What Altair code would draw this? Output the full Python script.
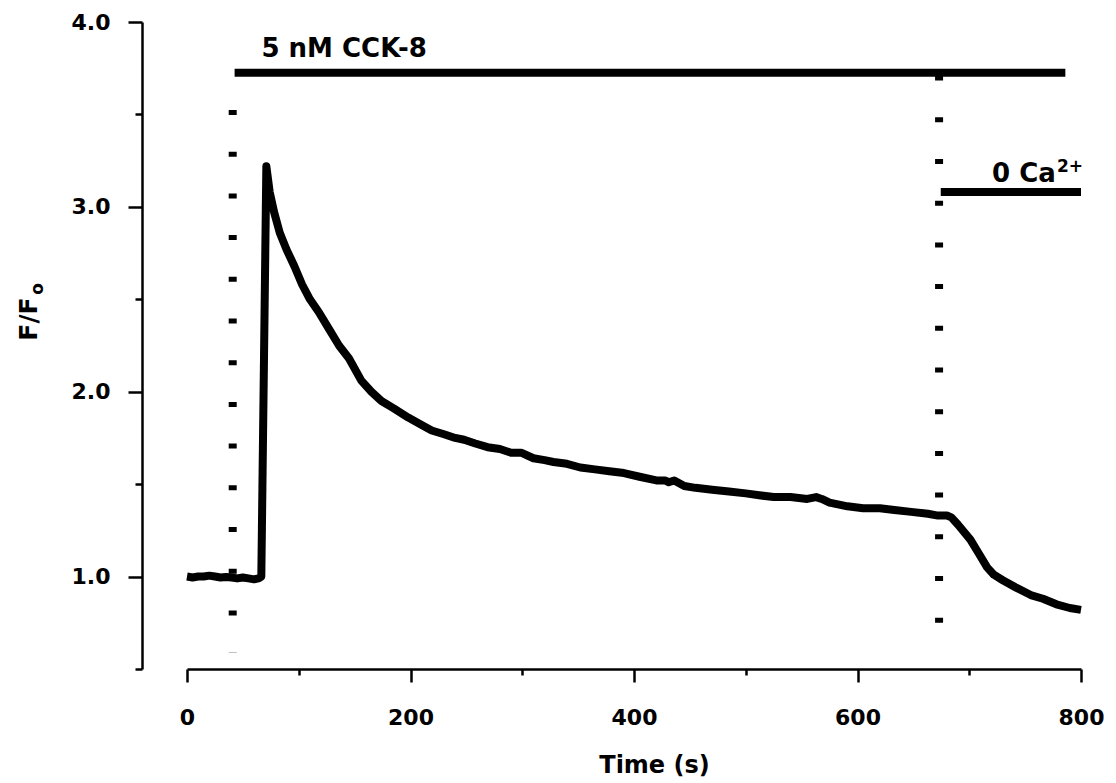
import altair as alt
import pandas as pd

# ---- data ----
time_s = [0, 5, 10, 15, 20, 25, 30, 35, 40, 45, 50, 55, 60, 64, 66.5, 71, 74, 78, 83, 89,
          96, 103, 110, 118, 127, 136, 145, 156, 165, 174, 185, 198, 210, 219, 230, 240,
          248, 258, 269, 280, 290, 299, 310, 320, 328, 340, 352, 365, 378, 391, 405, 420,
          428, 431, 436, 445, 455, 470, 485, 500, 512, 525, 540, 555, 563, 568, 575, 591,
          605, 620, 633, 648, 663, 672, 680, 684, 690, 701, 708, 716, 722, 730, 742, 755,
          766, 778, 790, 800]
f_ratio = [1.00, 0.995, 1.00, 1.00, 1.005, 1.00, 0.995, 0.998, 0.995, 0.99, 0.995, 0.99,
           0.985, 0.99, 1.00, 3.22, 3.08, 2.97, 2.86, 2.77, 2.68, 2.58, 2.50, 2.43, 2.34,
           2.25, 2.18, 2.06, 2.00, 1.95, 1.91, 1.86, 1.82, 1.79, 1.77, 1.75, 1.74, 1.72,
           1.70, 1.69, 1.67, 1.67, 1.64, 1.63, 1.62, 1.61, 1.59, 1.58, 1.57, 1.56, 1.54,
           1.52, 1.52, 1.51, 1.52, 1.49, 1.48, 1.47, 1.46, 1.45, 1.44, 1.43, 1.43, 1.42,
           1.43, 1.42, 1.40, 1.38, 1.37, 1.37, 1.36, 1.35, 1.34, 1.33, 1.33, 1.32, 1.28,
           1.20, 1.13, 1.05, 1.01, 0.98, 0.94, 0.90, 0.88, 0.85, 0.83, 0.82]

# treatment bars
bar_labels = ["5 nM CCK-8", "0 Ca"]
bar_start = [42.6, 674.5]
bar_end = [786, 800]
bar_level = [3.725, 3.08]

# dotted event markers
marker_t = [40.9, 673]
marker_top = [3.524, 3.71]
marker_bottom = [0.59, 0.74]

x_ticks = [0, 100, 200, 300, 400, 500, 600, 700, 800]
y_ticks = [0.5, 1.0, 1.5, 2.0, 2.5, 3.0, 3.5, 4.0]

FONT = "DejaVu Sans"

trace = pd.DataFrame({"t": time_s, "v": f_ratio})
bars = pd.DataFrame({"t": bar_start, "t2": bar_end, "v": bar_level})
markers = pd.DataFrame({"t": marker_t, "v": marker_top, "v2": marker_bottom})
labels = pd.DataFrame({
    "t": [66.6, 777.5],
    "v": [3.81, 3.137],
    "txt": [bar_labels[0], bar_labels[1]],
})
sup = pd.DataFrame({"t": [778.5], "v": [3.19], "txt": ["2+"]})

x_scale = alt.Scale(domain=[0, 800], nice=False, zero=False)
y_scale = alt.Scale(domain=[0.5, 4.0], nice=False, zero=False)

x_axis = alt.Axis(
    values=x_ticks,
    labelExpr="datum.value % 200 === 0 ? datum.label : ''",
    tickSize={"condition": {"test": "datum.value % 200 === 0", "value": 13}, "value": 6},
    labelPadding=25,
    labelFlush=False,
    labelBound=False,
    title="Time (s)",
    titleX=467,
    titleY=103,
    titleBaseline="alphabetic",
    titleFontSize=24,
    grid=False,
)
y_axis = alt.Axis(
    values=y_ticks,
    labelExpr="datum.value % 1 === 0 ? format(datum.value, '.1f') : ''",
    tickSize={"condition": {"test": "datum.value % 1 === 0", "value": 14}, "value": 7},
    labelPadding=18,
    labelFlush=False,
    offset=45,
    title=None,
    grid=False,
)


def X(field="t"):
    return alt.X(f"{field}:Q", scale=x_scale, axis=x_axis)


def Y(field="v"):
    return alt.Y(f"{field}:Q", scale=y_scale, axis=y_axis)


line = alt.Chart(trace).mark_line(
    color="black", strokeWidth=8, strokeJoin="round", strokeCap="butt"
).encode(x=X(), y=Y())

bar_rules = alt.Chart(bars).mark_rule(color="black", strokeWidth=8).encode(
    x=X(), x2="t2:Q", y=Y()
)

dotted = alt.Chart(markers).mark_rule(
    color="black", strokeWidth=8, strokeDash=[5, 36.7]
).encode(x=X(), y=Y(), y2="v2:Q")

text_left = alt.Chart(labels.iloc[[0]]).mark_text(
    font=FONT, fontSize=26, fontWeight="bold", align="left", baseline="alphabetic",
    color="black"
).encode(x=X(), y=Y(), text="txt:N")

text_right = alt.Chart(labels.iloc[[1]]).mark_text(
    font=FONT, fontSize=26, fontWeight="bold", align="right", baseline="alphabetic",
    color="black"
).encode(x=X(), y=Y(), text="txt:N")

text_sup = alt.Chart(sup).mark_text(
    font=FONT, fontSize=17, fontWeight="bold", align="left", baseline="alphabetic",
    color="black"
).encode(x=X(), y=Y(), text="txt:N")

ytitle = alt.Chart(pd.DataFrame({"txt": ["F/F"]})).mark_text(
    font=FONT, fontSize=25, fontWeight="bold", align="center", baseline="alphabetic",
    angle=270, color="black"
).encode(x=alt.value(-150), y=alt.value(297), text="txt:N")

ytitle_sub = alt.Chart(pd.DataFrame({"txt": ["o"]})).mark_text(
    font=FONT, fontSize=17, fontWeight="bold", align="center", baseline="alphabetic",
    angle=270, color="black"
).encode(x=alt.value(-144), y=alt.value(267), text="txt:N")

chart = alt.layer(
    dotted, bar_rules, line, text_left, text_right, text_sup, ytitle, ytitle_sub
).properties(
    width=894,
    height=647,
    autosize="none",
    padding={"left": 179, "top": 14, "right": 27, "bottom": 108},
    background="white",
).configure_view(stroke=None).configure_axis(
    domainColor="black",
    domainWidth=2.5,
    tickColor="black",
    tickWidth=2.5,
    labelFont=FONT,
    labelFontWeight="bold",
    labelFontSize=22,
    labelColor="black",
    titleFont=FONT,
    titleFontWeight="bold",
    titleColor="black",
)

chart.save("out.html", embed_options={"renderer": "svg", "actions": False})
